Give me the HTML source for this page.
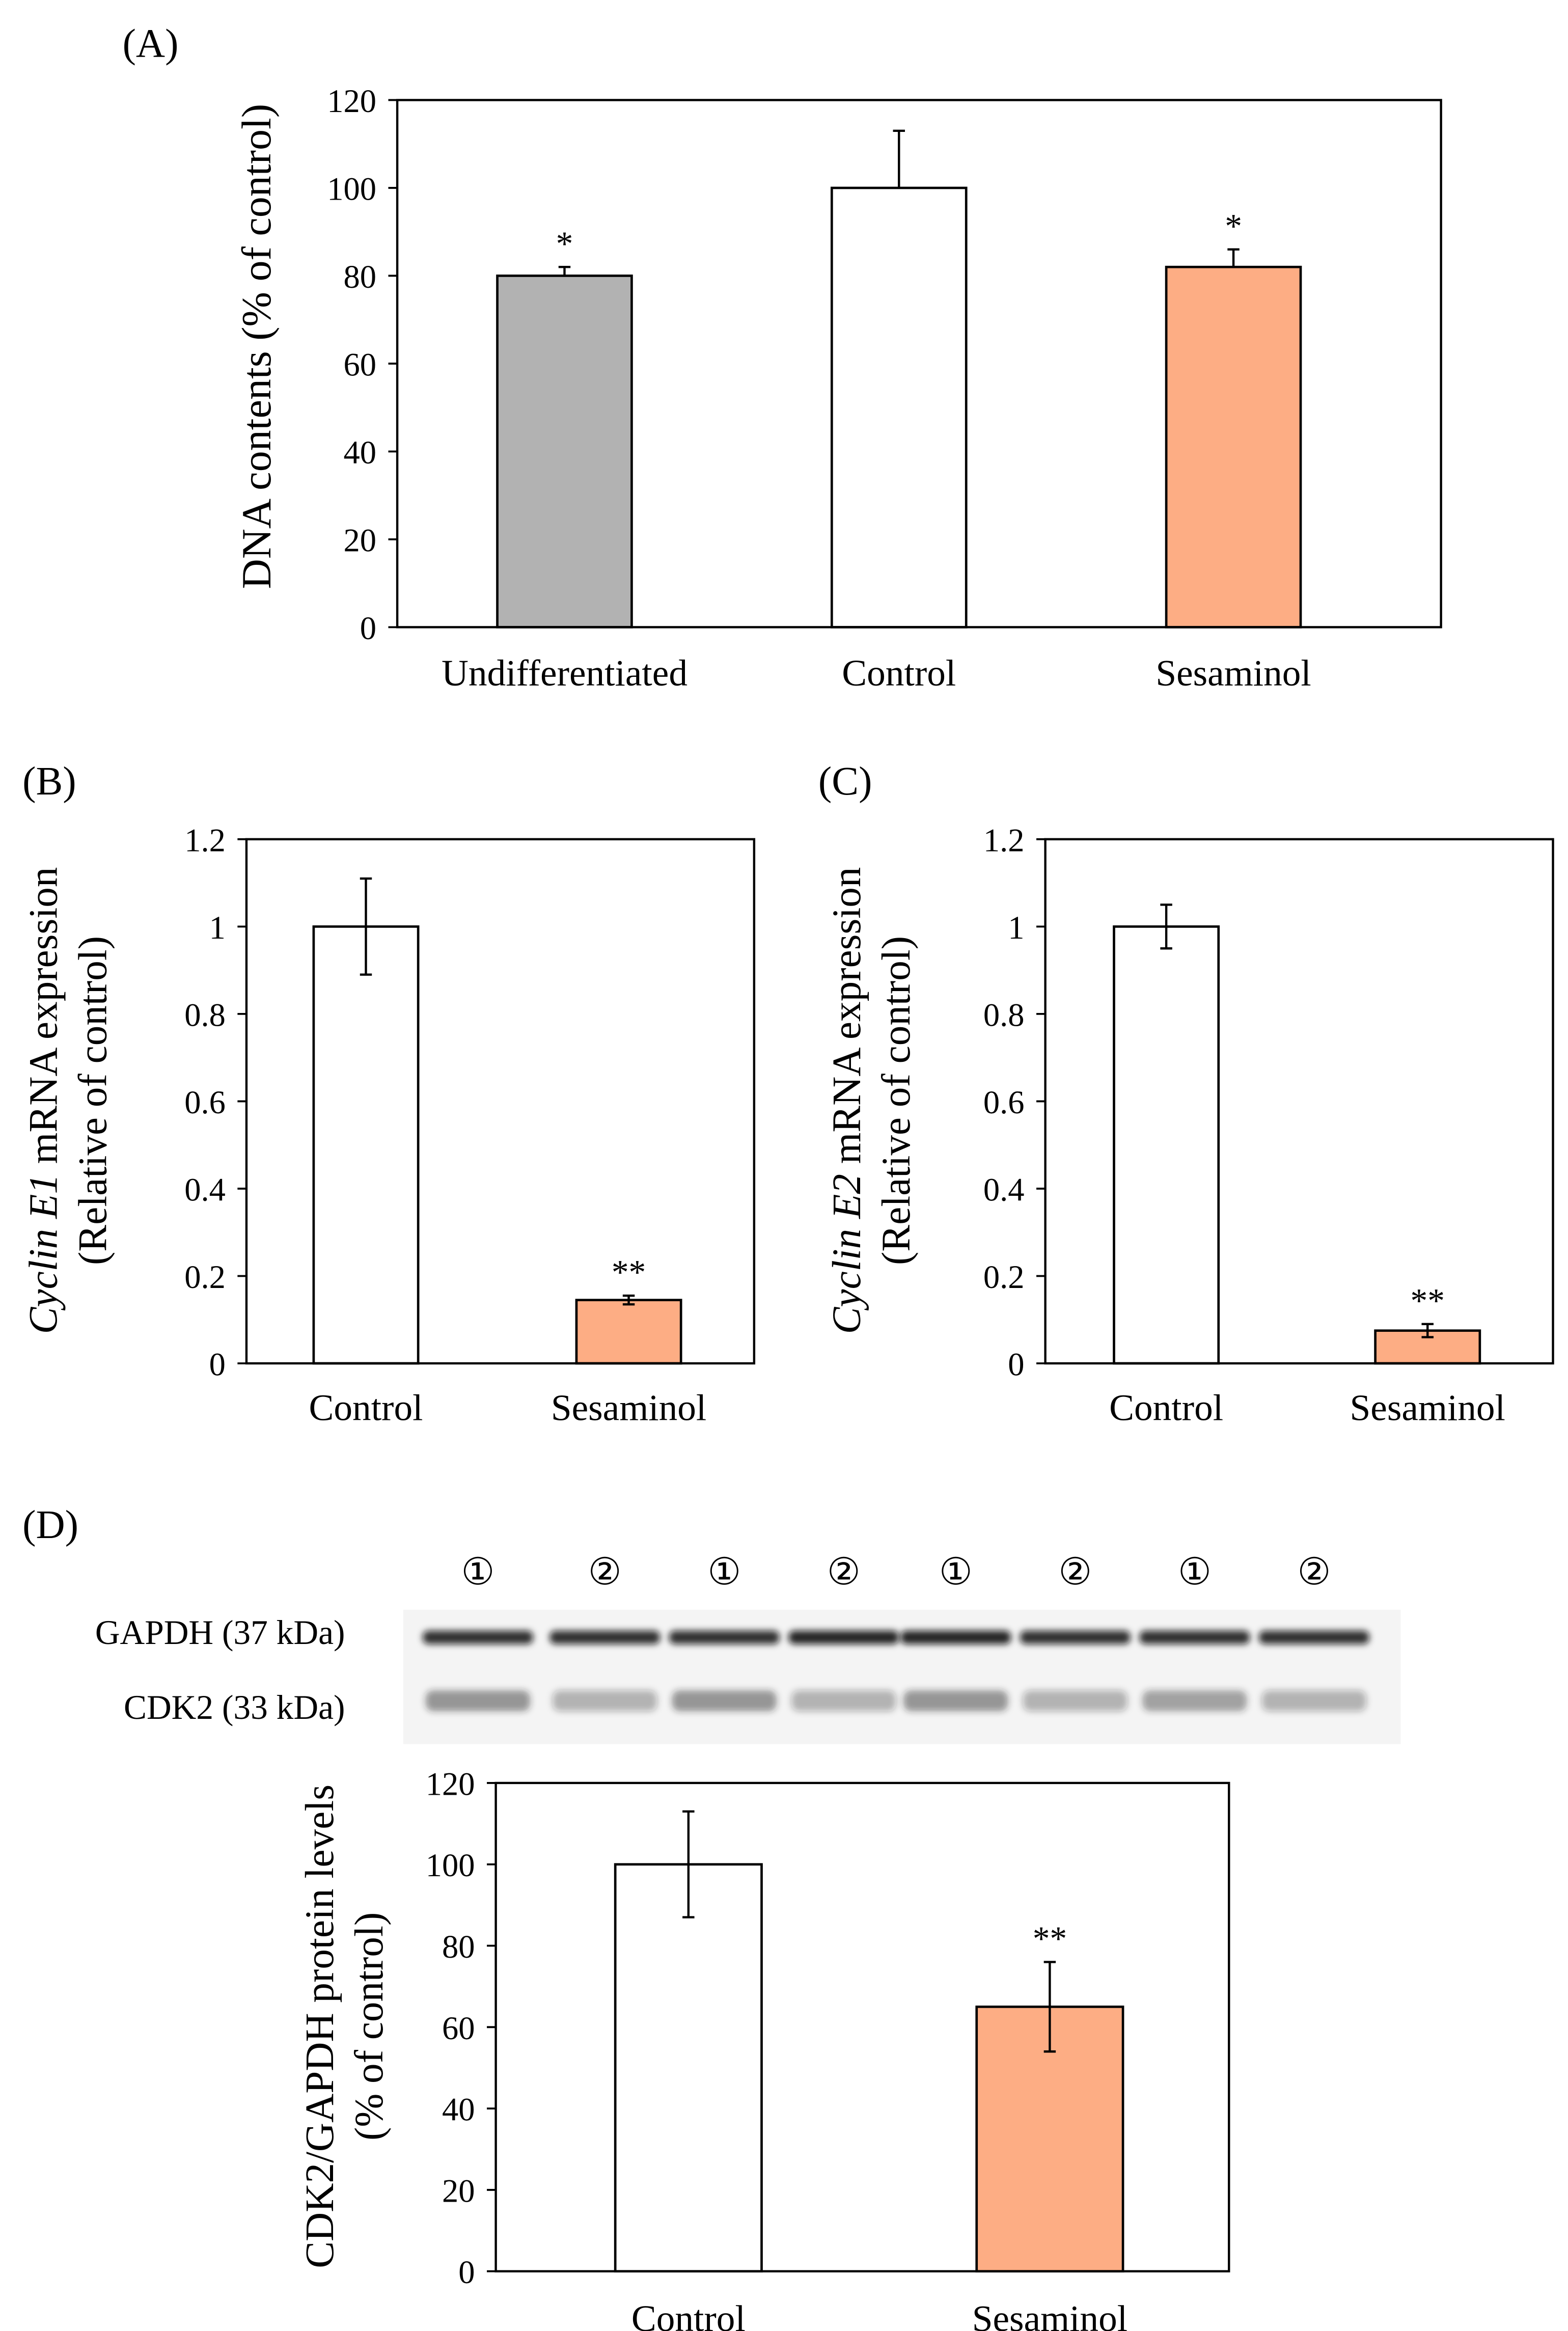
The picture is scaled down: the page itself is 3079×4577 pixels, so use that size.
<!DOCTYPE html>
<html><head><meta charset="utf-8"><style>
html,body{margin:0;padding:0;background:#fff;}
svg{display:block;font-family:"Liberation Serif",serif;}
</style></head><body>
<svg id="fig" width="3079" height="4577" viewBox="0 0 1050 1561" xmlns="http://www.w3.org/2000/svg">
<defs>
<filter id="blur" x="-20%" y="-100%" width="140%" height="300%"><feGaussianBlur stdDeviation="2.2"/></filter>
</defs>
<g id="blot">
  <rect x="270" y="1078" width="668" height="90" fill="#f4f4f4"/>
</g>
</svg>
<script>
const NS="http://www.w3.org/2000/svg";
const svg=document.getElementById('fig');
function el(tag,attrs,parent){const e=document.createElementNS(NS,tag);for(const k in attrs)e.setAttribute(k,attrs[k]);(parent||svg).appendChild(e);return e;}

// Panel A data
const catsA=["Undifferentiated","Control","Sesaminol"];
const valsA=[80,100,82];
const errA=[2,13,4];
const sigA=["*","","*"];
const ticksA=[0,20,40,60,80,100,120];
// Panel B data
const catsB=["Control","Sesaminol"];
const valsB=[1,0.145];
const errB=[0.11,0.01];
const sigB=["","**"];
const ticksB=[0,0.2,0.4,0.6,0.8,1,1.2];
// Panel C data
const catsC=["Control","Sesaminol"];
const valsC=[1,0.075];
const errC=[0.05,0.015];
const sigC=["","**"];
const ticksC=[0,0.2,0.4,0.6,0.8,1,1.2];
// Panel D data
const catsD=["Control","Sesaminol"];
const valsD=[100,65];
const errD=[13,11];
const sigD=["","**"];
const ticksD=[0,20,40,60,80,100,120];
const laneLabels=["①","②","①","②","①","②","①","②"];
const gapdhIntensity=[0.85,0.85,0.85,0.9,0.9,0.85,0.85,0.85];
const cdk2Intensity=[0.45,0.3,0.45,0.3,0.45,0.3,0.4,0.3];

function chart(o){
  const g=el('g',{});
  
  
  const {x0,x1,y0,y1,max}=o;
  const ys=v=>y1-(v/max)*(y1-y0);
  const xs=i=>o.c0+o.step*i;
  o.vals.forEach((v,i)=>{
    const b=el('rect',{x:xs(i)-o.bw/2,y:ys(v),width:o.bw,height:y1-ys(v),fill:o.colors[i],stroke:'#000','stroke-width':1.6},g);
    
    
    const e=o.err[i], cx=xs(i);
    const eb=el('path',{d:`M${cx},${ys(v)} V${ys(v+e)} M${cx-4},${ys(v+e)} H${cx+4}`+(o.lowerErr?` M${cx},${ys(v)} V${ys(v-e)} M${cx-4},${ys(v-e)} H${cx+4}`:''),stroke:'#000','stroke-width':1.5,fill:'none'},g);
    
    
    if(o.sig[i]){const t=el('text',{x:cx,y:ys(v+e)-8,'text-anchor':'middle','font-size':23},g);t.textContent=o.sig[i];
      }
    const l=el('text',{x:cx,y:y1+o.labOff,'text-anchor':'middle','font-size':25},g);l.textContent=o.cats[i];
    
  });
  o.ticks.forEach(t=>{
    el('line',{x1:x0-6,x2:x0,y1:ys(t),y2:ys(t),stroke:'#000','stroke-width':1.3},g);
    const l=el('text',{x:x0-14,y:ys(t)+8,'text-anchor':'end','font-size':22},g);l.textContent=t;
    
  });
  const box=el('rect',{x:x0,y:y0,width:x1-x0,height:y1-y0,fill:'none',stroke:'#000','stroke-width':1.5},g);
  
  return g;
}
function text(x,y,s,size,name,attrs){const t=el('text',Object.assign({x:x,y:y,'font-size':size},attrs||{}));t.textContent=s;
  return t;}

const WH='#fff', GR='#b2b2b2', OR='#fdad84';
// A
text(82,38,"(A)",27,"panel-a-label");
chart({name:'chart-a',cats:catsA,vals:valsA,err:errA,sig:sigA,ticks:ticksA,x0:266,x1:965,y0:67,y1:420,max:120,c0:378,step:224,bw:90,colors:[GR,WH,OR],labOff:39,lowerErr:false});
text(0,0,"DNA contents (% of control)",28,"y-axis-title-a",{transform:'translate(181,232) rotate(-90)','text-anchor':'middle'});
// B
text(15,532,"(B)",27,"panel-b-label");
chart({name:'chart-b',cats:catsB,vals:valsB,err:errB,sig:sigB,ticks:ticksB,x0:165,x1:505,y0:562,y1:913,max:1.2,c0:245,step:176,bw:70,colors:[WH,OR],labOff:38,lowerErr:true});
let tb=text(0,0,"",27,"y-axis-title-b",{transform:'translate(38,737) rotate(-90)','text-anchor':'middle'});
tb.innerHTML='<tspan font-style="italic">Cyclin E1</tspan> mRNA expression';
text(0,0,"(Relative of control)",27,"y-axis-subtitle-b",{transform:'translate(71,737) rotate(-90)','text-anchor':'middle'});
// C
text(548,532,"(C)",27,"panel-c-label");
chart({name:'chart-c',cats:catsC,vals:valsC,err:errC,sig:sigC,ticks:ticksC,x0:700,x1:1040,y0:562,y1:913,max:1.2,c0:781,step:175,bw:70,colors:[WH,OR],labOff:38,lowerErr:true});
let tc=text(0,0,"",27,"y-axis-title-c",{transform:'translate(576,737) rotate(-90)','text-anchor':'middle'});
tc.innerHTML='<tspan font-style="italic">Cyclin E2</tspan> mRNA expression';
text(0,0,"(Relative of control)",27,"y-axis-subtitle-c",{transform:'translate(609,737) rotate(-90)','text-anchor':'middle'});
// D
text(15,1030,"(D)",27,"panel-d-label");
const blot=document.getElementById('blot');
const laneX=[320,405,485,565,640,720,800,880];
laneLabels.forEach((s,i)=>{text(laneX[i],1061,s,25,"lane-label",{'text-anchor':'middle'});
  const a=el('rect',{x:laneX[i]-37,y:1092,width:74,height:9,rx:4,fill:'#111','fill-opacity':gapdhIntensity[i],filter:'url(#blur)'},blot);
  
  const b=el('rect',{x:laneX[i]-35,y:1132,width:70,height:14,rx:5,fill:'#222','fill-opacity':cdk2Intensity[i],filter:'url(#blur)'},blot);
  
});
text(231,1101,"GAPDH (37 kDa)",23,"gapdh-label",{'text-anchor':'end'});
text(231,1151,"CDK2 (33 kDa)",23,"cdk2-label",{'text-anchor':'end'});
chart({name:'chart-d',cats:catsD,vals:valsD,err:errD,sig:sigD,ticks:ticksD,x0:332,x1:823,y0:1194,y1:1521,max:120,c0:461,step:242,bw:98,colors:[WH,OR],labOff:40,lowerErr:true});
text(0,0,"CDK2/GAPDH protein levels",27,"y-axis-title-d",{transform:'translate(223,1357) rotate(-90)','text-anchor':'middle'});
text(0,0,"(% of control)",27,"y-axis-subtitle-d",{transform:'translate(256,1357) rotate(-90)','text-anchor':'middle'});
</script>
</body></html>
